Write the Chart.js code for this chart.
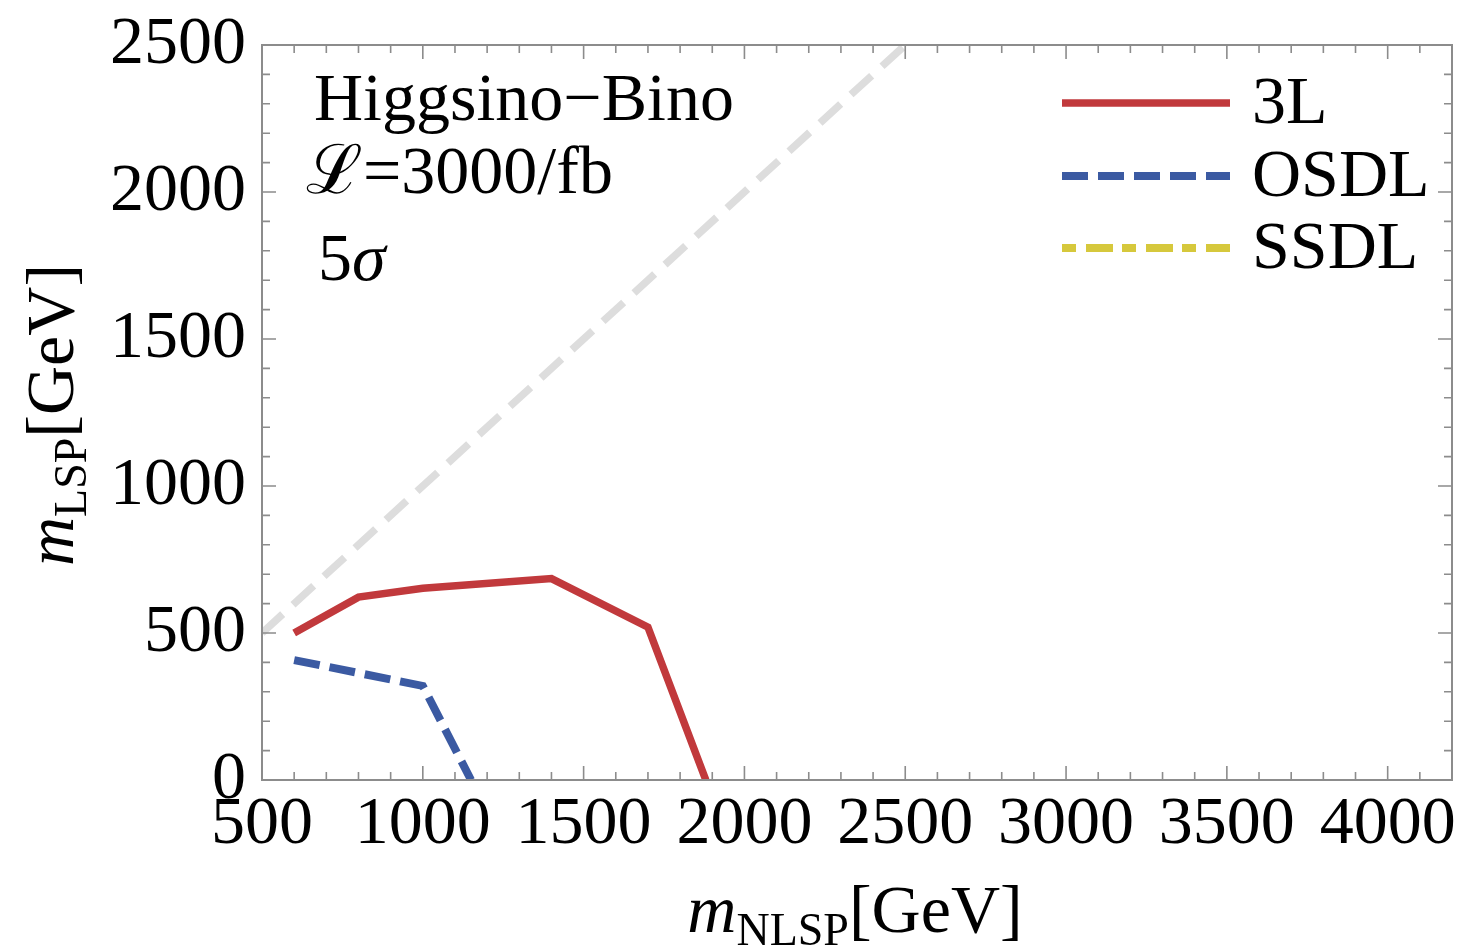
<!DOCTYPE html>
<html>
<head>
<meta charset="utf-8">
<script src="https://cdn.jsdelivr.net/npm/chart.js@4"></script>
<style>
  html, body { margin: 0; padding: 0; background: #fff; }
  #wrap { width: 1459px; height: 950px; }
</style>
</head>
<body>
<div id="wrap"><canvas id="c" width="1459" height="950"></canvas></div>
<script>
// --- datos ---
const xTicks = [500, 1000, 1500, 2000, 2500, 3000, 3500, 4000];
const yTicks = [0, 500, 1000, 1500, 2000, 2500];

const nlsp3L = [600, 800, 1000, 1400, 1700, 1880];
const lsp3L = [500, 622, 652, 685, 520, 0];

const nlspOSDL = [600, 1000, 1150];
const lspOSDL = [408, 320, 0];

const nlspSSDL = [];
const lspSSDL = [];

const diagX = [500, 2500];
const diagY = [500, 2500];

const seriesLabels = ['3L', 'OSDL', 'SSDL'];
const infoLines = ['Higgsino\u2212Bino', '\u2112=3000/fb', '5', '\u03c3'];

const SERIF = '"Liberation Serif", "DejaVu Serif", serif';
const pts = (xs, ys) => xs.map((x, i) => ({ x, y: ys[i] }));

const datasets = [
    { label: seriesLabels[0], data: pts(nlsp3L, lsp3L), borderColor: '#c1393c', borderWidth: 7.5, borderDash: [], inLegend: true },
    { label: seriesLabels[1], data: pts(nlspOSDL, lspOSDL), borderColor: '#3b5aa2', borderWidth: 8, borderDash: [26, 10], inLegend: true },
    { label: seriesLabels[2], data: pts(nlspSSDL, lspSSDL), borderColor: '#d6c83c', borderWidth: 8, borderDash: [14, 10, 27, 9], inLegend: true },
    { label: 'diag', data: pts(diagX, diagY), borderColor: '#dddddd', borderWidth: 7.5, borderDash: [28, 14], inLegend: false }
].map(d => ({ ...d, pointRadius: 0, fill: false, tension: 0, borderCapStyle: 'butt' }));

// marco, ticks internos, textos y leyenda (estilo Mathematica)
const framePlugin = {
    id: 'frame',
    afterDatasetsDraw(chart) {
        const { ctx, chartArea: a, scales } = chart;
        const sx = scales.x, sy = scales.y;
        ctx.save();
        ctx.strokeStyle = '#8c8c8c';
        ctx.lineWidth = 2;
        ctx.strokeRect(a.left, a.top, a.right - a.left, a.bottom - a.top);

        ctx.lineWidth = 1.6;
        ctx.beginPath();
        for (let v = 500; v <= 4200; v += 100) {
            const px = sx.getPixelForValue(v);
            const len = v % 500 === 0 ? 14 : 8;
            ctx.moveTo(px, a.bottom); ctx.lineTo(px, a.bottom - len);
            ctx.moveTo(px, a.top); ctx.lineTo(px, a.top + len);
        }
        for (let v = 0; v <= 2500; v += 100) {
            const py = sy.getPixelForValue(v);
            const len = v % 500 === 0 ? 14 : 8;
            ctx.moveTo(a.left, py); ctx.lineTo(a.left + len, py);
            ctx.moveTo(a.right, py); ctx.lineTo(a.right - len, py);
        }
        ctx.stroke();

        // texto informativo
        ctx.fillStyle = '#000';
        ctx.textBaseline = 'alphabetic';
        ctx.textAlign = 'left';
        ctx.font = '68px ' + SERIF;
        ctx.fillText(infoLines[0], 314, 120);
        ctx.fillText(infoLines[1], 306, 193);
        ctx.fillText(infoLines[2], 318, 280);
        const w5 = ctx.measureText(infoLines[2]).width;
        ctx.font = 'italic 68px ' + SERIF;
        ctx.fillText(infoLines[3], 318 + w5, 280);

        // leyenda
        const rows = [103, 176, 248];
        chart.data.datasets.filter(d => d.inLegend).forEach((d, i) => {
            ctx.strokeStyle = d.borderColor;
            ctx.lineWidth = d.borderWidth;
            ctx.setLineDash(d.borderDash);
            ctx.beginPath();
            ctx.moveTo(1062, rows[i]);
            ctx.lineTo(1230, rows[i]);
            ctx.stroke();
            ctx.setLineDash([]);
            ctx.font = '68px ' + SERIF;
            ctx.textBaseline = 'middle';
            ctx.fillText(d.label, 1252, rows[i] + 2);
        });

        // titulos de ejes con subindice
        const drawTitle = (x, y, sub) => {
            ctx.textBaseline = 'alphabetic';
            ctx.textAlign = 'left';
            ctx.font = 'italic 68px ' + SERIF;
            const w1 = ctx.measureText('m').width;
            ctx.font = '46px ' + SERIF;
            const w2 = ctx.measureText(sub).width;
            ctx.font = '68px ' + SERIF;
            const w3 = ctx.measureText('[GeV]').width;
            let cx = x - (w1 + w2 + w3) / 2;
            ctx.font = 'italic 68px ' + SERIF;
            ctx.fillText('m', cx, y); cx += w1;
            ctx.font = '46px ' + SERIF;
            ctx.fillText(sub, cx, y + 13); cx += w2;
            ctx.font = '68px ' + SERIF;
            ctx.fillText('[GeV]', cx, y);
        };
        drawTitle(855, 932, 'NLSP');
        ctx.translate(73, 415);
        ctx.rotate(-Math.PI / 2);
        drawTitle(0, 0, 'LSP');
        ctx.restore();
    }
};

const tickFont = { family: SERIF, size: 68, lineHeight: 1 };

new Chart(document.getElementById('c'), {
    type: 'line',
    data: { datasets },
    options: {
        responsive: false,
        animation: false,
        layout: { padding: { top: 45, right: 7, left: 0, bottom: 0 } },
        plugins: { legend: { display: false }, tooltip: { enabled: false } },
        scales: {
            x: {
                type: 'linear', min: 500, max: 4200,
                grid: { display: false, drawTicks: false },
                border: { display: false },
                ticks: { color: '#000', font: tickFont, padding: 11, maxRotation: 0, callback: v => String(v) },
                afterBuildTicks: s => { s.ticks = xTicks.map(v => ({ value: v })); },
                afterFit: s => { s.height = 170; s.paddingLeft = 0; s.paddingRight = 0; }
            },
            y: {
                type: 'linear', min: 0, max: 2500,
                grid: { display: false, drawTicks: false },
                border: { display: false },
                ticks: { color: '#000', font: tickFont, padding: 16, callback: v => String(v) },
                afterBuildTicks: s => { s.ticks = yTicks.map(v => ({ value: v })); },
                afterFit: s => { s.width = 262; s.paddingTop = 0; s.paddingBottom = 0; }
            }
        }
    },
    plugins: [framePlugin]
});
</script>
</body>
</html>
